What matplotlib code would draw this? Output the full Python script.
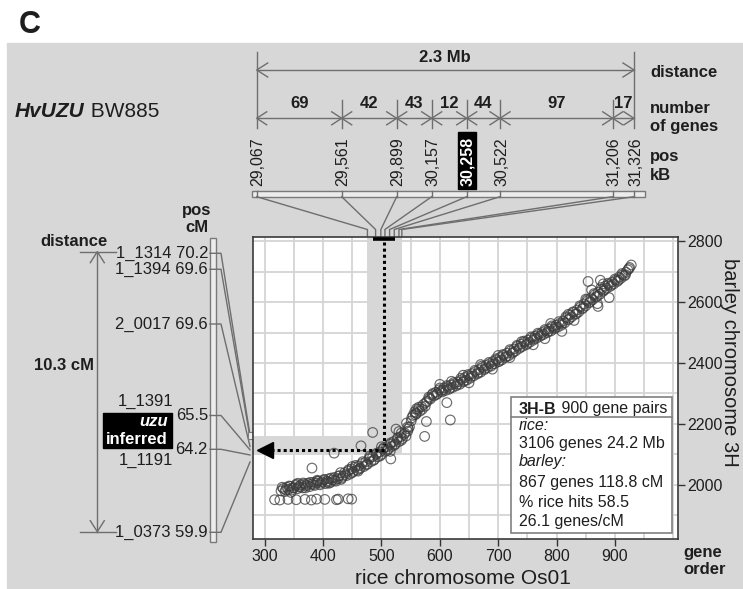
import matplotlib
matplotlib.use('Agg')
import numpy as np
import matplotlib.pyplot as plt
from matplotlib.patches import Rectangle

plt.rcParams['font.family'] = ['Liberation Sans', 'DejaVu Sans']

# gene pairs: rice gene order (x) vs barley gene order (y)
rice_order = [
    328, 332, 335, 338, 341, 344, 347, 350, 353, 356, 359, 362, 365, 368, 371, 374, 377, 380, 383, 386,
    389, 392, 395, 398, 401, 404, 407, 410, 413, 416, 419, 422, 425, 428, 431, 434, 437, 440,
    443, 446, 449, 452, 455, 458, 461, 464, 467, 470, 473, 476, 479, 482, 485, 488, 491, 494, 497, 500,
    503, 506, 509, 512, 515, 518, 521, 524,
    527, 530, 533, 536, 539, 542, 545, 548, 551, 554, 557, 560, 563, 566, 569, 572, 575, 578, 581, 584,
    587, 590, 593, 596, 599, 602,
    604, 607, 610, 613, 616, 619, 622, 625, 628, 631, 634, 637, 640, 643, 646, 649, 652, 655, 658, 661,
    664, 667, 670, 673, 676, 679, 682, 685, 688, 691, 694, 697, 700,
    703, 706, 709, 712, 715, 718, 721, 724, 727, 730, 733, 736, 739, 742, 745, 748, 751, 754, 757, 760,
    763, 766, 769, 772, 775, 778, 781, 784, 787, 790, 793, 796, 799, 802,
    805, 808, 811, 814, 817, 820, 823, 826, 829, 832, 835, 838, 841, 844, 847, 850, 853, 856, 859, 862,
    865, 868, 871, 874, 877, 880, 883, 886, 889, 892, 895, 898, 901, 904, 907, 910, 913, 916, 919, 922,
    925, 928,
    330, 336, 342, 348, 354, 360, 366, 372, 378, 384, 390, 396, 402, 408, 414, 420, 426, 432, 438, 444,
    450, 456, 462, 468, 474, 480, 486, 492, 498, 504, 510, 516, 522, 528, 534, 540, 546, 552, 558, 564,
    570, 576, 582, 588, 594, 600, 606, 612, 618, 624, 630, 636, 642, 648, 654, 660, 666, 672, 678, 684,
    690, 696, 702, 708, 714, 720, 726, 732, 738, 744, 750, 756, 762, 768, 774, 780, 786, 792, 798, 804,
    810, 816, 822, 828, 834, 840, 846, 852, 858, 864, 870, 876, 882, 888, 894, 900, 906, 912, 918, 924,
    600, 650, 700, 720, 760, 790, 830, 850, 870, 880, 890, 860, 875, 820, 780, 740, 690, 670, 640, 620,
    560, 545, 530, 515, 500, 480, 460, 450, 430, 410, 390, 370, 345, 357,
    317, 326, 340, 354, 369, 380, 389, 403, 423, 426, 443, 449, 381, 485, 525, 516, 419, 465, 618, 612,
    574, 577, 559, 534, 854, 809, 871, 543,
]
barley_order = [
    1980, 1988, 1978, 1992, 1985, 1995, 1983, 1990, 1998, 1987, 1995, 2000, 1990, 2003, 1996, 2005, 1994, 2002, 2008, 1998,
    2006, 2012, 2000, 2010, 2015, 2004, 2012, 2020, 2008, 2016, 2024, 2012, 2020, 2030, 2018, 2028, 2040, 2030,
    2045, 2035, 2052, 2044, 2058, 2048, 2062, 2055, 2070, 2060, 2075, 2068, 2085, 2076, 2092, 2083, 2100, 2092, 2108, 2100,
    2118, 2110, 2125, 2118, 2133, 2126, 2142, 2134,
    2150, 2142, 2158, 2152, 2166, 2160, 2176, 2190, 2210, 2228, 2240, 2234, 2248, 2242, 2256, 2264, 2258, 2274, 2288, 2282,
    2296, 2292, 2304, 2300, 2312, 2308,
    2305, 2318, 2310, 2322, 2314, 2328, 2320, 2332, 2325, 2338, 2330, 2345, 2338, 2352, 2344, 2358, 2350, 2365, 2358, 2372,
    2364, 2378, 2370, 2385, 2378, 2392, 2385, 2398, 2390, 2405, 2398, 2410, 2404,
    2418, 2410, 2425, 2418, 2432, 2424, 2440, 2432, 2446, 2440, 2455, 2448, 2462, 2455, 2468, 2460, 2475, 2468, 2482, 2475,
    2488, 2482, 2494, 2488, 2500, 2494, 2506, 2500, 2512, 2505, 2518, 2512, 2524, 2518,
    2530, 2524, 2538, 2532, 2548, 2542, 2558, 2552, 2566, 2560, 2574, 2568, 2584, 2578, 2594, 2588, 2604, 2598, 2614, 2608,
    2624, 2618, 2632, 2626, 2642, 2636, 2652, 2646, 2658, 2652, 2666, 2660, 2672, 2668, 2682, 2678, 2690, 2686, 2698, 2706,
    2714, 2722,
    1992, 1984, 1996, 1990, 2002, 1992, 2006, 1999, 2008, 2001, 2012, 2005, 2018, 2008, 2022, 2015, 2028, 2022, 2034, 2050,
    2040, 2064, 2052, 2076, 2066, 2090, 2080, 2104, 2095, 2122, 2113, 2138, 2130, 2155, 2146, 2170, 2184, 2220, 2230, 2255,
    2248, 2270, 2284, 2300, 2296, 2318, 2312, 2326, 2318, 2336, 2330, 2350, 2342, 2362, 2356, 2376, 2368, 2390, 2382, 2402,
    2396, 2414, 2406, 2428, 2422, 2444, 2436, 2458, 2452, 2472, 2464, 2486, 2480, 2498, 2492, 2510, 2504, 2522, 2516, 2536,
    2530, 2552, 2546, 2568, 2562, 2588, 2582, 2608, 2602, 2628, 2620, 2648, 2640, 2662, 2656, 2676, 2672, 2694, 2690, 2710,
    2330, 2335, 2425, 2418, 2460, 2530, 2540, 2610, 2595, 2660, 2615, 2640, 2672, 2560, 2480, 2470, 2380, 2395, 2360, 2340,
    2250, 2190, 2175, 2110, 2125, 2095, 2045, 2060, 2040, 2005, 2015, 1990, 1975, 2005,
    1951, 1950, 1952, 1951, 1952, 1950, 1953, 1952, 1951, 1953, 1954, 1953, 2055, 2172, 2183, 2085, 2104, 2128, 2213, 2270,
    2159, 2208, 2236, 2170, 2668, 2504, 2586, 2203,
]

kb_labels = ['29,067', '29,561', '29,899', '30,157', '30,258', '30,522', '31,206', '31,326']
gene_counts = ['69', '42', '43', '12', '44', '97', '17']
kb_rice_order = [476, 490, 499, 506, 514, 522, 530, 535]

marker_names = ['1_1314', '1_1394', '2_0017', '1_1391', '1_1191', '1_0373']
marker_cm = ['70.2', '69.6', '69.6', '65.5', '64.2', '59.9']
marker_barley_order = [2164, 2156, 2126, 2115, 2098, 2075]

legend_rows = ['rice:', '3106 genes 24.2 Mb', 'barley:', '867 genes 118.8 cM',
               '% rice hits 58.5', '26.1 genes/cM']

W, H = 743, 589
tc = '#1e1e1e'
lc = '#6e6e6e'

fig = plt.figure(figsize=(W / 100, H / 100), dpi=100)

# background layer in pixel coordinates
ov = fig.add_axes([0, 0, 1, 1], zorder=0)
ov.set_xlim(0, W)
ov.set_ylim(H, 0)
ov.axis('off')
ov.add_patch(Rectangle((7, 43), W - 7, H - 43, color='#d7d7d7', zorder=0))

# main dot plot
ax = fig.add_axes([253 / W, (H - 539) / H, (678 - 253) / W, (539 - 236.7) / H], zorder=1)
ax.set_xlim(280, 1008)
ax.set_ylim(1822, 2815)
ax.set_facecolor('white')
ax.set_xticks(range(300, 901, 100))
ax.set_xticks(range(300, 1001, 50), minor=True)
ax.set_yticks(range(2000, 2801, 200))
ax.set_yticks(range(1900, 2801, 100), minor=True)
ax.grid(which='both', color='#d4d4d4', lw=1.3)
ax.set_axisbelow(True)
ax.yaxis.tick_right()
ax.tick_params(which='major', direction='out', length=5, width=1, labelsize=11.5,
               colors='#333333', labelcolor=tc, pad=2)
ax.tick_params(which='minor', length=0)
for s in ax.spines.values():
    s.set_color('#3a3a3a')
    s.set_linewidth(1.2)

# highlighted region of the uzu gene
ax.add_patch(Rectangle((476, 2098), 535 - 476, 2815 - 2098, color='#d7d7d7', lw=0, zorder=1))
ax.add_patch(Rectangle((280, 2098), 535 - 280, 2159 - 2098, color='#d7d7d7', lw=0, zorder=1))

ax.scatter(rice_order, barley_order, s=48, facecolors='none', edgecolors='#3c3c3c',
           linewidths=0.85, alpha=0.75, zorder=3)

ax.plot([486, 524], [2808, 2808], color='black', lw=2.6, solid_capstyle='butt', zorder=5, clip_on=False)
ax.plot([505, 505], [2798, 2130], color='black', lw=2.2, ls=(0, (1, 1)), zorder=5)
ax.plot([505, 306], [2115, 2115], color='black', lw=2.2, ls=(0, (1, 1)), zorder=5)
ax.plot(300.5, 2115, marker='<', ms=11, color='black', zorder=5)

ax.set_xlabel('rice chromosome Os01', fontsize=15, color=tc)
ax.xaxis.set_label_coords(0.494, -0.1)
ax.yaxis.set_label_position('right')
ax.set_ylabel('barley chromosome 3H', fontsize=14.5, color=tc, rotation=-90, va='center', ha='center')
ax.yaxis.set_label_coords(1.122, 0.584)


def to_px(x, y):
    dx, dy = ax.transData.transform((x, y))
    return dx, H - dy


def harrow(x0, x1, y, L=10, w=6.5):
    ov.plot([x0, x1], [y, y], color=lc, lw=1)
    ov.plot([x0 + L, x0, x0 + L], [y - w, y, y + w], color=lc, lw=1)
    ov.plot([x1 - L, x1, x1 - L], [y - w, y, y + w], color=lc, lw=1)


# panel letter and title
ov.text(19, 25, 'C', fontsize=22, fontweight='bold', color=tc, va='center', ha='left')
t = ov.text(15, 111.7, 'HvUZU', fontsize=15, fontweight='bold', style='italic', color=tc, va='center')
ov.annotate(' BW885', xy=(1, 0.5), xycoords=t, fontsize=15, color=tc, va='center')

# rice physical interval
div_px = [256.7, 341.7, 396.7, 431.7, 466.7, 500, 612.7, 634]
ov.plot([div_px[0]] * 2, [51.7, 128], color=lc, lw=1)
ov.plot([div_px[-1]] * 2, [51.7, 128], color=lc, lw=1)
harrow(div_px[0], div_px[-1], 70, L=11, w=7)
ov.text((div_px[0] + div_px[-1]) / 2, 57.3, '2.3 Mb', fontsize=12, fontweight='bold',
        color=tc, ha='center', va='center')
for xd in div_px[1:-1]:
    ov.plot([xd, xd], [100, 128], color=lc, lw=1)
for i, n in enumerate(gene_counts):
    harrow(div_px[i], div_px[i + 1], 118.3, L=10, w=6.5)
    ov.text((div_px[i] + div_px[i + 1]) / 2, 103.3, n, fontsize=12, fontweight='bold',
            color=tc, ha='center', va='center')

for txt, y in [('distance', 72.7), ('number', 108.3), ('of genes', 126.7), ('pos', 156.7), ('kB', 175)]:
    ov.text(650, y, txt, fontsize=12, fontweight='bold', color=tc, va='center')

for xd, lab in zip(div_px, kb_labels):
    if lab == '30,258':
        ov.add_patch(Rectangle((xd - 8.5, 132.3), 17.5, 56.7, color='black', zorder=2))
        ov.text(xd + 0.5, 186, lab, fontsize=11.5, fontweight='bold', color='white', rotation=90,
                ha='center', va='bottom', zorder=3)
    else:
        ov.text(xd + 1.5, 186, lab, fontsize=11.5, color=tc, rotation=90, ha='center', va='bottom')

ov.add_patch(Rectangle((252.3, 190.7), 645 - 252.3, 6, fc='#ececec', ec='#7a7a7a', lw=1, zorder=2))
for xd, ro in zip(div_px, kb_rice_order):
    xe, ytop = to_px(ro, 2815)
    ov.plot([xd, xd], [190.7, 196.7], color=lc, lw=1, zorder=3)
    ov.plot([xd, xe, xe], [196.7, 229.5, ytop], color=lc, lw=1, zorder=3)

# barley genetic interval
ov.text(197, 210, 'pos', fontsize=12, fontweight='bold', color=tc, ha='center', va='center')
ov.text(197, 227.7, 'cM', fontsize=12, fontweight='bold', color=tc, ha='center', va='center')
ov.text(40, 241, 'distance', fontsize=12, fontweight='bold', color=tc, va='center')
ov.add_patch(Rectangle((209.5, 238), 6, 303.7, fc='#ececec', ec='#7a7a7a', lw=1, zorder=2))

ya, yb, xa = 251.7, 531.7, 97.3
ov.plot([xa, xa], [ya, yb], color=lc, lw=1)
ov.plot([xa - 7, xa, xa + 7], [ya + 11, ya, ya + 11], color=lc, lw=1)
ov.plot([xa - 7, xa, xa + 7], [yb - 11, yb, yb - 11], color=lc, lw=1)
ov.plot([80, 116], [ya, ya], color=lc, lw=1)
ov.plot([80, 116], [yb, yb], color=lc, lw=1)
ov.text(94, 365, '10.3 cM', fontsize=12, fontweight='bold', color=tc, ha='right', va='center')

label_y = [253.3, 269.3, 324, 415.5, 449.3, 532.3]
xleft, _ = to_px(280, 2000)
for i, (nm, cm, bo) in enumerate(zip(marker_names, marker_cm, marker_barley_order)):
    y = label_y[i]
    _, ye = to_px(280, bo)
    ov.plot([210, 221, xleft - 3], [y, y, ye], color=lc, lw=1, zorder=3)
    if nm in ('1_1391', '1_1191'):
        ov.text(208, y, cm, fontsize=12, color=tc, ha='right', va='center')
        ny = 401.7 if nm == '1_1391' else 460
        ov.text(173, ny, nm, fontsize=12, color=tc, ha='right', va='center')
    else:
        ov.text(208, y, nm + ' ' + cm, fontsize=12, color=tc, ha='right', va='center')
ov.add_patch(Rectangle((247.5, 432), 5, 7, fc='#ececec', ec='#7a7a7a', lw=0.8, zorder=3))

ov.add_patch(Rectangle((103, 413), 69, 35, color='black', zorder=2))
ov.text(168, 421.5, 'uzu', fontsize=12, fontweight='bold', style='italic', color='white',
        ha='right', va='center', zorder=3)
ov.text(168, 440, 'inferred', fontsize=12, fontweight='bold', color='white',
        ha='right', va='center', zorder=3)

# top layer: legend box and axis note
top = fig.add_axes([0, 0, 1, 1], zorder=2)
top.set_xlim(0, W)
top.set_ylim(H, 0)
top.axis('off')
top.add_patch(Rectangle((510.5, 396.7), 672 - 510.5, 533.3 - 396.7, fc='white', ec='#808080', lw=1.2))
top.plot([510.5, 672], [417.3, 417.3], color='#808080', lw=1.2)
t = top.text(519, 409, '3H-B', fontsize=11.5, fontweight='bold', color=tc, va='center')
top.annotate(' 900 gene pairs', xy=(1, 0.5), xycoords=t, fontsize=11.5, color=tc, va='center')
row_y = [426, 443.3, 461.7, 482.7, 502.7, 521.7]
for r, y in zip(legend_rows, row_y):
    top.text(519, y, r, fontsize=11.5, color=tc, va='center',
             style='italic' if r.endswith(':') else 'normal')

top.text(683, 552, 'gene', fontsize=12, fontweight='bold', color=tc, va='center')
top.text(683, 570, 'order', fontsize=12, fontweight='bold', color=tc, va='center')

fig.savefig('out.png', dpi=100)
